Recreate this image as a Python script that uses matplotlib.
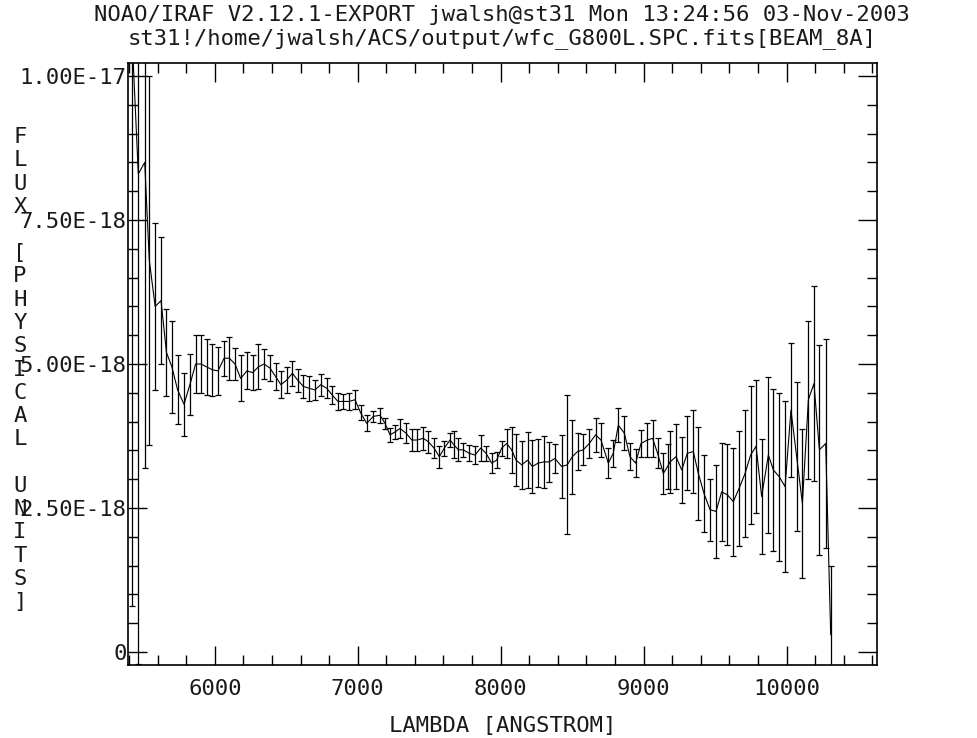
import matplotlib
matplotlib.use('Agg')
import matplotlib.pyplot as plt
from matplotlib.ticker import FixedLocator, MultipleLocator

# wavelength (Angstrom), flux in units of 1e-18, error in units of 1e-18
wave = [5423, 5465, 5510, 5542, 5583, 5624, 5662, 5700, 5740, 5785,
        5827, 5866, 5904, 5943, 5983, 6023, 6065, 6102, 6142, 6181,
        6225, 6265, 6305, 6344, 6386, 6426, 6463, 6503, 6543, 6580,
        6620, 6659, 6701, 6741, 6783, 6822, 6862, 6899, 6941, 6981,
        7021, 7063, 7109, 7156, 7191, 7226, 7261, 7296, 7338, 7378,
        7417, 7459, 7494, 7534, 7571, 7606, 7646, 7672, 7704, 7739,
        7779, 7821, 7860, 7898, 7937, 7972, 8007, 8042, 8077, 8108,
        8147, 8189, 8222, 8263, 8303, 8340, 8380, 8427, 8466, 8501,
        8538, 8578, 8620, 8664, 8702, 8753, 8788, 8823, 8865, 8905,
        8944, 8982, 9026, 9063, 9098, 9138, 9168, 9185, 9227, 9267,
        9306, 9348, 9383, 9423, 9465, 9507, 9546, 9586, 9628, 9668,
        9710, 9749, 9787, 9826, 9873, 9908, 9950, 9990, 10031, 10071,
        10111, 10153, 10192, 10230, 10274, 10309]
flux = [10.6, 8.3, 8.5, 6.8, 6.0, 6.1, 5.2, 4.95, 4.55, 4.3,
        4.65, 5.0, 5.0, 4.95, 4.9, 4.88, 5.1, 5.1, 5.0, 4.75,
        4.88, 4.85, 4.95, 5.0, 4.93, 4.78, 4.64, 4.72, 4.84, 4.72,
        4.61, 4.58, 4.55, 4.64, 4.58, 4.46, 4.35, 4.35, 4.35, 4.38,
        4.15, 3.97, 4.09, 4.11, 3.97, 3.77, 3.82, 3.88, 3.80, 3.68,
        3.68, 3.71, 3.65, 3.54, 3.39, 3.54, 3.68, 3.60, 3.51, 3.51,
        3.45, 3.42, 3.54, 3.45, 3.28, 3.33, 3.54, 3.62, 3.51, 3.33,
        3.25, 3.33, 3.22, 3.28, 3.30, 3.30, 3.36, 3.22, 3.25, 3.39,
        3.48, 3.51, 3.62, 3.77, 3.68, 3.28, 3.45, 3.94, 3.80, 3.39,
        3.28, 3.62, 3.68, 3.71, 3.45, 3.10, 3.22, 3.30, 3.39, 3.16,
        3.45, 3.48, 3.10, 2.75, 2.47, 2.44, 2.78, 2.73, 2.61, 2.84,
        3.10, 3.42, 3.57, 2.70, 3.42, 3.16, 3.04, 2.87, 4.20, 3.39,
        2.58, 4.38, 4.66, 3.51, 3.62, 0.3]
err = [9.8, 8.5, 5.3, 3.2, 1.45, 1.1, 0.75, 0.8, 0.6, 0.55,
       0.53, 0.5, 0.5, 0.48, 0.45, 0.42, 0.3, 0.37, 0.27, 0.4,
       0.32, 0.3, 0.39, 0.26, 0.23, 0.23, 0.23, 0.23, 0.22, 0.20,
       0.20, 0.22, 0.18, 0.19, 0.17, 0.15, 0.15, 0.13, 0.14, 0.16,
       0.13, 0.14, 0.10, 0.13, 0.09, 0.12, 0.12, 0.17, 0.17, 0.19,
       0.19, 0.20, 0.19, 0.17, 0.19, 0.13, 0.12, 0.24, 0.20, 0.12,
       0.14, 0.16, 0.23, 0.13, 0.17, 0.14, 0.13, 0.26, 0.40, 0.45,
       0.42, 0.49, 0.46, 0.42, 0.45, 0.35, 0.25, 0.55, 1.21, 0.64,
       0.32, 0.27, 0.26, 0.30, 0.30, 0.26, 0.23, 0.29, 0.30, 0.23,
       0.25, 0.23, 0.30, 0.32, 0.26, 0.36, 0.39, 0.54, 0.56, 0.58,
       0.64, 0.72, 0.80, 0.67, 0.54, 0.80, 0.85, 0.88, 0.94, 1.0,
       1.11, 1.2, 1.16, 1.0, 1.35, 1.40, 1.46, 1.48, 1.17, 1.29,
       1.30, 1.37, 1.69, 1.82, 1.82, 1.2]

ytick_vals = [0, 2.5, 5.0, 7.5, 10.0]
ytick_labels = ['0', '2.50E-18', '5.00E-18', '7.50E-18', '1.00E-17']
xtick_vals = [6000, 7000, 8000, 9000, 10000]

title1 = 'NOAO/IRAF V2.12.1-EXPORT jwalsh@st31 Mon 13:24:56 03-Nov-2003'
title2 = 'st31!/home/jwalsh/ACS/output/wfc_G800L.SPC.fits[BEAM_8A]'
ylabel = 'FLUX [PHYSICAL UNITS]'
xlabel = 'LAMBDA [ANGSTROM]'

plt.rcParams['font.family'] = ['DejaVu Sans Mono']
fs = 16
tc = '#1a1a1a'

fig = plt.figure(figsize=(9.77, 7.38), dpi=100)
ax = fig.add_axes([128 / 977, 1 - 665 / 738, 749 / 977, 602 / 738])

ax.errorbar(wave, flux, yerr=err, color='k', lw=0.8, elinewidth=0.9,
            capsize=2.2, capthick=0.9)

ax.set_xlim(5393, 10633)
ax.set_ylim(-0.226, 10.226)

ax.xaxis.set_major_locator(FixedLocator(xtick_vals))
ax.xaxis.set_minor_locator(MultipleLocator(200))
ax.yaxis.set_major_locator(FixedLocator(ytick_vals))
ax.yaxis.set_minor_locator(MultipleLocator(0.5))
ax.set_yticklabels(ytick_labels)

ax.tick_params(which='both', direction='in', top=True, right=True,
               labelsize=fs, color='k', labelcolor=tc)
ax.tick_params(which='major', length=13.5, width=1.0)
ax.tick_params(which='minor', length=7, width=1.0)
ax.tick_params(axis='x', which='major', pad=10)
ax.tick_params(axis='y', which='major', pad=1)
for s in ax.spines.values():
    s.set_linewidth(1.2)

ax.set_xlabel(xlabel, fontsize=fs, labelpad=12, color=tc)

# titles
fig.text(502 / 977, 1 - 15 / 738, title1, ha='center', va='center',
         fontsize=fs, color=tc)
fig.text(502 / 977, 1 - 39 / 738, title2, ha='center', va='center',
         fontsize=fs, color=tc)

# stacked vertical y-label, one character per line
for i, ch in enumerate(ylabel):
    fig.text(20 / 977, 1 - (137 + i * 23.25) / 738, ch, ha='center', va='center',
             fontsize=fs, color=tc)

fig.savefig('out.png', dpi=100)
